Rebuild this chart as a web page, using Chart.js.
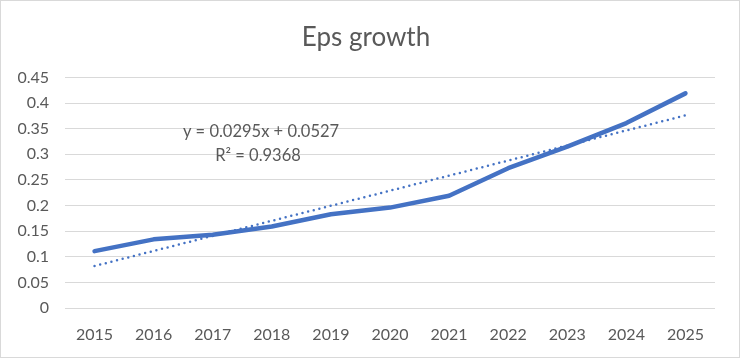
<!DOCTYPE html>
<html>
<head>
<meta charset="utf-8">
<script src="https://cdn.jsdelivr.net/npm/chart.js@4"></script>
<style>
  html, body { margin: 0; padding: 0; background: #fff; }
  #wrap { position: relative; width: 740px; height: 358px; box-sizing: border-box; border: 1px solid #d9d9d9; }
  canvas { display: block; }
</style>
</head>
<body>
<div id="wrap"><canvas id="epsChart" width="738" height="356"></canvas></div>
<script>
const years = ['2015', '2016', '2017', '2018', '2019', '2020', '2021', '2022', '2023', '2024', '2025'];
const epsValues = [0.111, 0.134, 0.143, 0.159, 0.183, 0.196, 0.219, 0.273, 0.315, 0.361, 0.419];
// trendline ends, Chart.js joins them
const trendValues = [0.082, null, null, null, null, null, null, null, null, null, 0.376];
const trendLabel = ['y = 0.0295x + 0.0527', 'R\u00b2 = 0.9368'];

const textColor = '#595959';
const fontFamily = 'Lato, "Open Sans", sans-serif';

// writes the trendline equation, like Excel does
const trendText = {
    id: 'trendText',
    afterDatasetsDraw(chart) {
        const ctx = chart.ctx;
        ctx.save();
        ctx.fillStyle = textColor;
        ctx.font = '16.5px ' + fontFamily;
        ctx.textAlign = 'center';
        ctx.textBaseline = 'middle';
        ctx.fillText(trendLabel[0], 260, 131);
        ctx.fillText(trendLabel[1], 257, 155);
        ctx.restore();
    }
};

const ctx = document.getElementById('epsChart').getContext('2d');
new Chart(ctx, {
    type: 'line',
    data: {
        labels: years,
        datasets: [{
            label: 'EPS',
            data: epsValues,
            borderColor: '#4472C4',
            borderWidth: 4.5,
            pointRadius: 0,
            tension: 0,
            borderCapStyle: 'round',
            borderJoinStyle: 'round'
        }, {
            label: 'Trend',
            data: trendValues,
            spanGaps: true,
            borderColor: '#4472C4',
            borderWidth: 2.5,
            borderDash: [0, 5.8],
            borderCapStyle: 'round',
            pointRadius: 0
        }]
    },
    options: {
        responsive: false,
        animation: false,
        layout: { padding: { left: 16, right: 24, top: 0, bottom: 0 } },
        plugins: {
            legend: { display: false },
            tooltip: { enabled: false },
            title: {
                display: true,
                text: 'Eps growth',
                color: textColor,
                font: { family: fontFamily, size: 26, weight: 'normal', lineHeight: 1.2 },
                padding: { top: 21, bottom: 24.3 }
            }
        },
        scales: {
            x: {
                offset: true,
                grid: { display: false, drawTicks: false, offset: true },
                border: { display: false },
                ticks: {
                    color: textColor,
                    font: { family: fontFamily, size: 16 },
                    padding: 17,
                    maxRotation: 0
                },
                afterFit: scale => { scale.height = 49; }
            },
            y: {
                min: 0,
                max: 0.45,
                grid: { color: '#d9d9d9', lineWidth: 1, drawTicks: false },
                border: { display: false },
                ticks: {
                    stepSize: 0.05,
                    color: textColor,
                    font: { family: fontFamily, size: 16 },
                    padding: 16,
                    callback: v => parseFloat(v.toFixed(2)).toString()
                },
                afterFit: scale => { scale.width = 48; }
            }
        }
    },
    plugins: [trendText]
});
</script>
</body>
</html>
